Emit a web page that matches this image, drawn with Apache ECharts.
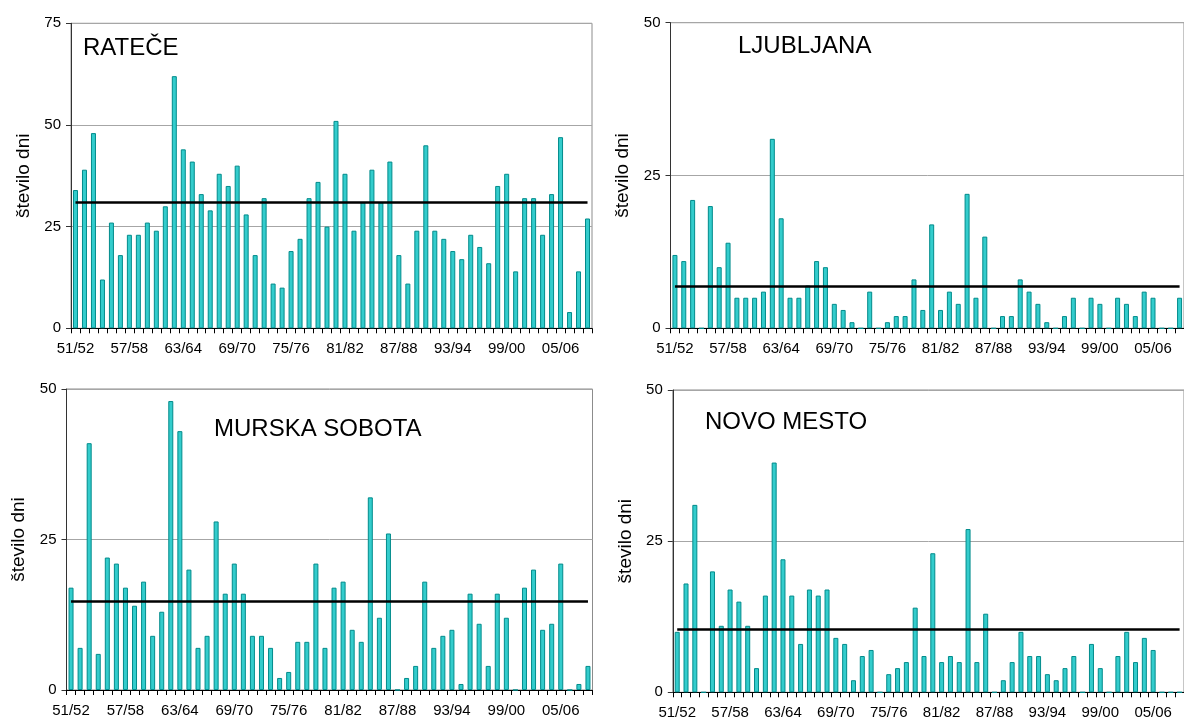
<!DOCTYPE html>
<html>
<head>
<meta charset="utf-8">
<script src="https://cdn.jsdelivr.net/npm/echarts@6/dist/echarts.min.js"></script>
<style>
html,body{margin:0;padding:0;background:#fff;overflow:hidden;}
#chart{width:1184px;height:722px;}
</style>
</head>
<body>
<div id="chart"></div>
<script>
const categories = ['51/52','52/53','53/54','54/55','55/56','56/57','57/58','58/59','59/60','60/61',
  '61/62','62/63','63/64','64/65','65/66','66/67','67/68','68/69','69/70','70/71',
  '71/72','72/73','73/74','74/75','75/76','76/77','77/78','78/79','79/80','80/81',
  '81/82','82/83','83/84','84/85','85/86','86/87','87/88','88/89','89/90','90/91',
  '91/92','92/93','93/94','94/95','95/96','96/97','97/98','98/99','99/00','00/01',
  '01/02','02/03','03/04','04/05','05/06','06/07','07/08','08/09'];

const stationNames = ['RATEČE', 'LJUBLJANA', 'MURSKA SOBOTA', 'NOVO MESTO'];
const yAxisName = 'število dni';

const ratece = [34,39,48,12,26,18,23,23,26,24,30,62,44,41,33,29,38,35,40,28,
  18,32,11,10,19,22,32,36,25,51,38,24,31,39,31,41,18,11,24,45,
  24,22,19,17,23,20,16,35,38,14,32,32,23,33,47,4,14,27];
const ljubljana = [12,11,21,0,20,10,14,5,5,5,6,31,18,5,5,7,11,10,4,3,
  1,0,6,0,1,2,2,8,3,17,3,6,4,22,5,15,0,2,2,8,
  6,4,1,0,2,5,0,5,4,0,5,4,2,6,5,0,0,5];
const murskaSobota = [17,7,41,6,22,21,17,14,18,9,13,48,43,20,7,9,28,16,21,16,
  9,9,7,2,3,8,8,21,7,17,18,10,8,32,12,26,0,2,4,18,
  7,9,10,1,16,11,4,16,12,0,17,20,10,11,21,0,1,4];
const novoMesto = [10,18,31,0,20,11,17,15,11,4,16,38,22,16,8,17,16,17,9,8,
  2,6,7,0,3,4,5,14,6,23,5,6,5,27,5,13,0,2,5,10,
  6,6,3,2,4,6,0,8,4,0,6,10,5,9,7,0,0,0];

const means = [31.1, 6.9, 14.8, 10.5];
const yMax = [75, 50, 50, 50];
const yInterval = 25;

const seriesValues = [ratece, ljubljana, murskaSobota, novoMesto];

const grids = [
  {left: 71, top: 23.3, width: 521, height: 305},
  {left: 670.5, top: 22.7, width: 517, height: 305.6},
  {left: 66.5, top: 389, width: 526, height: 301},
  {left: 672.8, top: 390, width: 518, height: 302.3}
];
const titlePos = [
  {left: 83, top: 36},
  {left: 738, top: 34},
  {left: 214, top: 417},
  {left: 705, top: 410}
];

const FONT = '"Liberation Sans", Arial, sans-serif';

const option = {
  animation: false,
  backgroundColor: '#fff',
  title: stationNames.map((n, i) => ({
    text: n, left: titlePos[i].left, top: titlePos[i].top, padding: 0,
    textStyle: {fontSize: 24, fontWeight: 'normal', color: '#000', fontFamily: FONT}
  })),
  grid: grids.map(g => Object.assign({show: true, borderColor: '#8c8c8c', borderWidth: 1, backgroundColor: 'transparent', containLabel: false}, g)),
  xAxis: grids.map((g, i) => ({
    type: 'category', gridIndex: i, data: categories,
    axisLine: {lineStyle: {color: '#000', width: 1}},
    axisTick: {show: true, interval: 0, length: 5, lineStyle: {color: '#000'}},
    axisLabel: {interval: 5, margin: 13, fontSize: 15, color: '#000', fontFamily: FONT},
    splitLine: {show: false}
  })),
  yAxis: grids.map((g, i) => ({
    type: 'value', gridIndex: i, min: 0, max: yMax[i], interval: yInterval,
    name: yAxisName, nameLocation: 'middle', nameGap: 38, nameRotate: 90,
    nameTextStyle: {fontSize: 19, color: '#000', fontFamily: FONT},
    axisLine: {show: true, lineStyle: {color: '#333', width: 1}},
    axisTick: {show: true, length: 5, lineStyle: {color: '#333'}},
    axisLabel: {margin: 10, fontSize: 15, color: '#000', fontFamily: FONT},
    splitLine: {show: true, lineStyle: {color: '#a6a6a6', width: 1}}
  })),
  series: seriesValues.map((vals, i) => ({
    type: 'bar', xAxisIndex: i, yAxisIndex: i, data: vals,
    barWidth: 5, silent: true,
    itemStyle: {color: '#33CCCC', borderColor: '#008B8B', borderWidth: 1},
    markLine: {
      silent: true, symbol: 'none', animation: false,
      label: {show: false},
      lineStyle: {color: '#000', width: 2.5, type: 'solid'},
      emphasis: {disabled: true},
      data: [[{coord: [categories[0], means[i]]}, {coord: [categories[categories.length - 1], means[i]]}]]
    }
  }))
};

const chart = echarts.init(document.getElementById('chart'), null, {renderer: 'canvas'});
chart.setOption(option);
</script>
</body>
</html>
